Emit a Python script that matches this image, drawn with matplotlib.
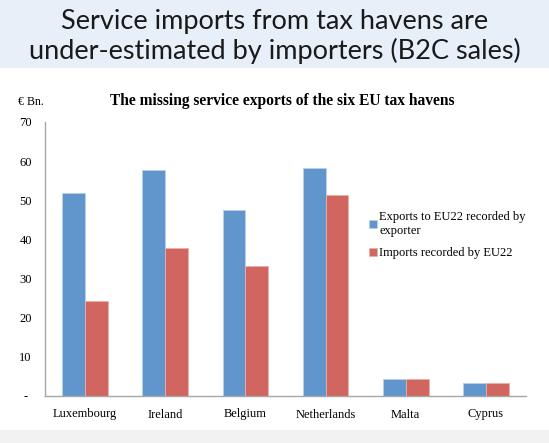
import matplotlib.pyplot as plt
import numpy as np
from matplotlib.patches import Rectangle

countries = ['Luxembourg', 'Ireland', 'Belgium', 'Netherlands', 'Malta', 'Cyprus']
exports_exporter = [51.8, 57.8, 47.5, 58.2, 4.3, 3.4]
imports_eu22 = [24.2, 37.8, 33.1, 51.3, 4.3, 3.4]
yticks = [0, 10, 20, 30, 40, 50, 60, 70]
ytick_labels = ['-', '10', '20', '30', '40', '50', '60', '70']

blue = '#6096cc'
red = '#d0665f'
serif = ['Liberation Serif', 'DejaVu Serif']

fig = plt.figure(figsize=(5.49, 4.43), dpi=100)

# slide header banner + footer strip
fig.patches.append(Rectangle((0, 1 - 68/443), 1, 68/443, transform=fig.transFigure,
                             facecolor='#e7f0f9', edgecolor='none', zorder=0))
fig.patches.append(Rectangle((0, 0), 1, 13/443, transform=fig.transFigure,
                             facecolor='#f2f2f2', edgecolor='none', zorder=0))
fig.text(0.5, 1 - 22/443, 'Service imports from tax havens are', ha='center', va='center',
         fontsize=19.5, family='Lato', color='#1a1a1a')
fig.text(0.5, 1 - 51/443, 'under-estimated by importers (B2C sales)', ha='center', va='center',
         fontsize=19.5, family='Lato', color='#1a1a1a')

ax = fig.add_axes([45/549, 1 - 396/443, (526 - 45)/549, (396 - 122)/443])
x = np.arange(len(countries))
w = 0.285
ax.bar(x - w/2, exports_exporter, w, color=blue, edgecolor='#b8d0ea', linewidth=0.6,
       label='Exports to EU22 recorded by\nexporter')
ax.bar(x + w/2, imports_eu22, w, color=red, edgecolor='#eab0ab', linewidth=0.6,
       label='Imports recorded by EU22')

ax.set_xlim(-0.5, len(countries) - 0.5)
ax.set_ylim(0, 70)
ax.set_yticks(yticks)
ax.set_yticklabels(ytick_labels, family=serif, fontsize=9)
for t in ax.get_yticklabels():
    t.set_horizontalalignment('center')
ax.tick_params(axis='y', length=0, pad=14)
ax.set_xticks(x)
ax.set_xticklabels(countries, family=serif, fontsize=9)
ax.tick_params(axis='x', length=0, pad=9)
for s in ['top', 'right']:
    ax.spines[s].set_visible(False)
for s in ['left', 'bottom']:
    ax.spines[s].set_color('#a6a6a6')
    ax.spines[s].set_linewidth(1)

fig.text(18/549, 1 - 102/443, '€ Bn.', family=serif, fontsize=8.5, va='center')
fig.text(282/549, 1 - 101/443, 'The missing service exports of the six EU tax havens',
         family=serif, fontsize=11.2, fontweight='bold', ha='center', va='center')

ax.legend(loc='upper left', bbox_to_anchor=(363/549, 1 - 205/443), bbox_transform=fig.transFigure,
          frameon=False, prop={'family': serif, 'size': 9}, handlelength=0.6, handleheight=0.6,
          handletextpad=0.2, labelspacing=0.8, borderpad=0)

fig.savefig('out.png', dpi=100)
